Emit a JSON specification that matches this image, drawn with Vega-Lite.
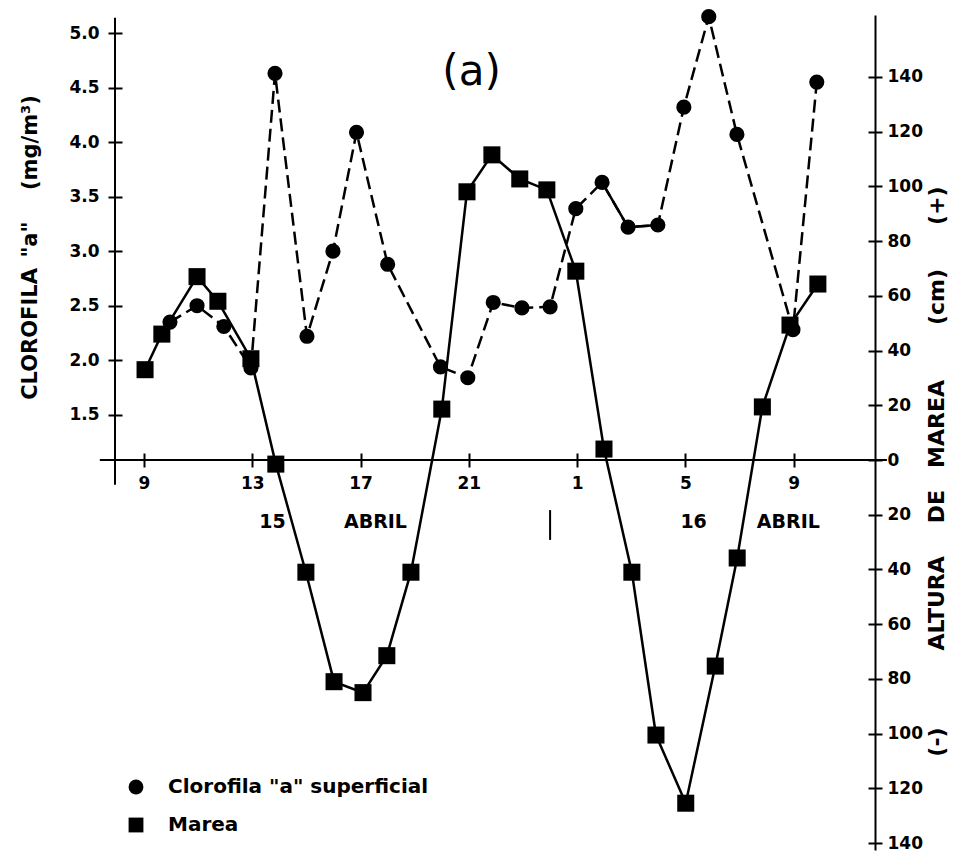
{
  "$schema": "https://vega.github.io/schema/vega-lite/v6.json",
  "width": 760,
  "height": 835,
  "autosize": "none",
  "padding": {"left": 115, "top": 15, "right": 98, "bottom": 3},
  "background": "white",
  "datasets": {
    "clorofila": [
      {"hora": 9.96, "valor": 2.35, "serie": "Clorofila \"a\" superficial"},
      {"hora": 10.96, "valor": 2.5, "serie": "Clorofila \"a\" superficial"},
      {"hora": 11.95, "valor": 2.31, "serie": "Clorofila \"a\" superficial"},
      {"hora": 12.95, "valor": 1.93, "serie": "Clorofila \"a\" superficial"},
      {"hora": 13.84, "valor": 4.63, "serie": "Clorofila \"a\" superficial"},
      {"hora": 15.02, "valor": 2.22, "serie": "Clorofila \"a\" superficial"},
      {"hora": 15.98, "valor": 3.0, "serie": "Clorofila \"a\" superficial"},
      {"hora": 16.85, "valor": 4.09, "serie": "Clorofila \"a\" superficial"},
      {"hora": 18.0, "valor": 2.88, "serie": "Clorofila \"a\" superficial"},
      {"hora": 19.95, "valor": 1.94, "serie": "Clorofila \"a\" superficial"},
      {"hora": 20.96, "valor": 1.84, "serie": "Clorofila \"a\" superficial"},
      {"hora": 21.9, "valor": 2.53, "serie": "Clorofila \"a\" superficial"},
      {"hora": 22.96, "valor": 2.48, "serie": "Clorofila \"a\" superficial"},
      {"hora": 24.0, "valor": 2.49, "serie": "Clorofila \"a\" superficial"},
      {"hora": 24.95, "valor": 3.39, "serie": "Clorofila \"a\" superficial"},
      {"hora": 25.92, "valor": 3.63, "serie": "Clorofila \"a\" superficial"},
      {"hora": 26.88, "valor": 3.22, "serie": "Clorofila \"a\" superficial"},
      {"hora": 27.98, "valor": 3.24, "serie": "Clorofila \"a\" superficial"},
      {"hora": 28.94, "valor": 4.32, "serie": "Clorofila \"a\" superficial"},
      {"hora": 29.86, "valor": 5.15, "serie": "Clorofila \"a\" superficial"},
      {"hora": 30.9, "valor": 4.07, "serie": "Clorofila \"a\" superficial"},
      {"hora": 32.97, "valor": 2.28, "serie": "Clorofila \"a\" superficial"},
      {"hora": 33.85, "valor": 4.55, "serie": "Clorofila \"a\" superficial"}
    ],
    "marea": [
      {"hora": 9.04, "altura": 33, "serie": "Marea"},
      {"hora": 9.66, "altura": 46, "serie": "Marea"},
      {"hora": 10.96, "altura": 67, "serie": "Marea"},
      {"hora": 11.73, "altura": 58, "serie": "Marea"},
      {"hora": 12.95, "altura": 37, "serie": "Marea"},
      {"hora": 13.87, "altura": -1.5, "serie": "Marea"},
      {"hora": 14.98, "altura": -41, "serie": "Marea"},
      {"hora": 16.02, "altura": -81, "serie": "Marea"},
      {"hora": 17.09, "altura": -85, "serie": "Marea"},
      {"hora": 17.97, "altura": -71.5, "serie": "Marea"},
      {"hora": 18.86, "altura": -41, "serie": "Marea"},
      {"hora": 20.0, "altura": 18.6, "serie": "Marea"},
      {"hora": 20.93, "altura": 98, "serie": "Marea"},
      {"hora": 21.85, "altura": 111.5, "serie": "Marea"},
      {"hora": 22.88, "altura": 102.7, "serie": "Marea"},
      {"hora": 23.88, "altura": 98.7, "serie": "Marea"},
      {"hora": 24.95, "altura": 69, "serie": "Marea"},
      {"hora": 25.99, "altura": 4, "serie": "Marea"},
      {"hora": 27.02, "altura": -41, "serie": "Marea"},
      {"hora": 27.91, "altura": -100.5, "serie": "Marea"},
      {"hora": 29.01, "altura": -125.4, "serie": "Marea"},
      {"hora": 30.1, "altura": -75.3, "serie": "Marea"},
      {"hora": 30.91, "altura": -35.8, "serie": "Marea"},
      {"hora": 31.84, "altura": 19.4, "serie": "Marea"},
      {"hora": 32.86, "altura": 49.3, "serie": "Marea"},
      {"hora": 33.89, "altura": 64.3, "serie": "Marea"}
    ]
  },
  "config": {
    "view": {"stroke": null},
    "font": "DejaVu Sans",
    "axis": {
      "grid": false,
      "domainColor": "black",
      "tickColor": "black",
      "labelColor": "black",
      "titleColor": "black",
      "labelFont": "DejaVu Sans",
      "titleFont": "DejaVu Sans",
      "labelFontWeight": "bold",
      "titleFontWeight": "bold"
    }
  },
  "layer": [
    {
      "data": {"values": [{}]},
      "mark": {"type": "rule", "color": "black", "strokeWidth": 2},
      "encoding": {
        "x": {"datum": 7.93, "type": "quantitative", "scale": {"domain": [7.93, 36], "nice": false, "zero": false}, "axis": null},
        "y": {
          "datum": 0.86, "type": "quantitative",
          "scale": {"domain": [-2.489, 5.165], "nice": false, "zero": false},
          "axis": {
            "orient": "right", "offset": -760, "domain": false, "labels": false, "title": null,
            "values": [1.5, 2, 2.5, 3, 3.5, 4, 4.5, 5], "tickSize": 7, "tickWidth": 2
          }
        },
        "y2": {"datum": 5.14}
      }
    },
    {
      "data": {"values": [{}]},
      "mark": {"type": "rule", "color": "black", "strokeWidth": 2},
      "encoding": {
        "x": {
          "datum": 7.37, "type": "quantitative",
          "scale": {"domain": [7.93, 36], "nice": false, "zero": false},
          "axis": {
            "orient": "top", "offset": -445, "domain": false, "labels": false, "title": null,
            "values": [9, 13, 17, 21, 25, 29, 33], "tickSize": 7, "tickWidth": 2
          }
        },
        "x2": {"datum": 36.44},
        "y": {"datum": 0, "type": "quantitative", "scale": {"domain": [-142.5, 162.6], "nice": false, "zero": false}, "axis": null}
      }
    },
    {
      "data": {"values": [{}]},
      "mark": {"type": "rule", "color": "black", "strokeWidth": 2},
      "encoding": {
        "x": {"datum": 24.0, "type": "quantitative", "scale": {"domain": [7.93, 36], "nice": false, "zero": false}, "axis": null},
        "y": {"datum": -18.3, "type": "quantitative", "scale": {"domain": [-142.5, 162.6], "nice": false, "zero": false}, "axis": null},
        "y2": {"datum": -29.2}
      }
    },
    {
      "data": {"name": "clorofila"},
      "mark": {"type": "line", "color": "black", "strokeWidth": 2.5, "strokeDash": [13, 6]},
      "encoding": {
        "x": {"field": "hora", "type": "quantitative", "scale": {"domain": [7.93, 36], "nice": false, "zero": false}, "axis": null},
        "y": {"field": "valor", "type": "quantitative", "scale": {"domain": [-2.489, 5.165], "nice": false, "zero": false}, "axis": null}
      }
    },
    {
      "data": {"name": "clorofila"},
      "transform": [{"filter": "datum.hora >= 25.9 && datum.hora <= 28"}],
      "mark": {"type": "line", "color": "black", "strokeWidth": 2.5},
      "encoding": {
        "x": {"field": "hora", "type": "quantitative", "scale": {"domain": [7.93, 36], "nice": false, "zero": false}, "axis": null},
        "y": {"field": "valor", "type": "quantitative", "scale": {"domain": [-2.489, 5.165], "nice": false, "zero": false}, "axis": null}
      }
    },
    {
      "data": {"name": "marea"},
      "mark": {"type": "line", "color": "black", "strokeWidth": 2.5},
      "encoding": {
        "x": {"field": "hora", "type": "quantitative", "scale": {"domain": [7.93, 36], "nice": false, "zero": false}, "axis": null},
        "y": {
          "field": "altura", "type": "quantitative",
          "scale": {"domain": [-142.5, 162.6], "nice": false, "zero": false},
          "axis": {
            "orient": "left", "offset": -760, "domain": false, "labels": false, "title": null,
            "values": [-140, -120, -100, -80, -60, -40, -20, 0, 20, 40, 60, 80, 100, 120, 140],
            "tickSize": 7, "tickWidth": 2
          }
        }
      }
    },
    {
      "data": {"name": "clorofila"},
      "mark": {"type": "point", "filled": true, "color": "black", "opacity": 1, "size": 230},
      "encoding": {
        "x": {
          "field": "hora", "type": "quantitative",
          "scale": {"domain": [7.93, 36], "nice": false, "zero": false},
          "axis": {
            "orient": "bottom", "offset": -390, "title": null, "domain": false,
            "values": [9, 13, 17, 21, 25, 29, 33],
            "labelExpr": "datum.value > 24 ? datum.value - 24 : datum.value",
            "tickSize": 7, "tickWidth": 2, "labelFontSize": 17, "labelPadding": 8
          }
        },
        "y": {
          "field": "valor", "type": "quantitative",
          "scale": {"domain": [-2.489, 5.165], "nice": false, "zero": false},
          "axis": {
            "orient": "left", "domain": false,
            "values": [1.5, 2, 2.5, 3, 3.5, 4, 4.5, 5],
            "format": ".1f",
            "tickSize": 7, "tickWidth": 2, "labelFontSize": 17, "labelPadding": 9,
            "title": "CLOROFILA\u2002\"a\"\u2003\u2002(mg/m³)",
            "titleFontSize": 21, "titleAngle": 270, "titleX": -85, "titleY": 232,
            "titleAlign": "center", "titleBaseline": "middle"
          }
        },
        "shape": {
          "field": "serie", "type": "nominal",
          "scale": {"domain": ["Clorofila \"a\" superficial", "Marea"], "range": ["circle", "square"]},
          "legend": {
            "orient": "none", "legendX": 11, "legendY": 762, "title": null, "direction": "vertical",
            "labelFont": "DejaVu Sans", "labelFontSize": 20, "labelFontWeight": "bold", "labelColor": "black",
            "symbolSize": 220, "symbolFillColor": "black", "symbolStrokeColor": "black", "symbolStrokeWidth": 0,
            "rowPadding": 18, "labelOffset": 22, "padding": 0, "labelLimit": 400
          }
        }
      }
    },
    {
      "data": {"name": "marea"},
      "mark": {"type": "point", "filled": true, "color": "black", "opacity": 1, "size": 290},
      "encoding": {
        "x": {"field": "hora", "type": "quantitative", "scale": {"domain": [7.93, 36], "nice": false, "zero": false}, "axis": null},
        "y": {
          "field": "altura", "type": "quantitative",
          "scale": {"domain": [-142.5, 162.6], "nice": false, "zero": false},
          "axis": {
            "orient": "right", "domain": true, "domainWidth": 2,
            "values": [-140, -120, -100, -80, -60, -40, -20, 0, 20, 40, 60, 80, 100, 120, 140],
            "labelExpr": "abs(datum.value)",
            "tickSize": 7, "tickWidth": 2, "labelFontSize": 17, "labelPadding": 5,
            "title": "(-)\u2003\u2003\u2003\u2002ALTURA\u2003\u2002DE\u2003MAREA\u2003\u2003\u2002(cm)\u2003\u2003(+)",
            "titleFontSize": 22, "titleAngle": 270, "titleX": 61, "titleY": 456,
            "titleAlign": "center", "titleBaseline": "middle"
          }
        },
        "shape": {"field": "serie", "type": "nominal"}
      }
    },
    {
      "data": {"values": [{}]},
      "mark": {"type": "text", "fontSize": 42, "font": "DejaVu Sans", "color": "black"},
      "encoding": {
        "x": {"datum": 21.1, "type": "quantitative", "scale": {"domain": [7.93, 36], "nice": false, "zero": false}, "axis": null},
        "y": {"datum": 4.64, "type": "quantitative", "scale": {"domain": [-2.489, 5.165], "nice": false, "zero": false}, "axis": null},
        "text": {"value": "(a)"}
      }
    },
    {
      "data": {"values": [{}]},
      "mark": {"type": "text", "fontSize": 19, "fontWeight": "bold", "color": "black"},
      "encoding": {
        "x": {"datum": 13.75, "type": "quantitative", "scale": {"domain": [7.93, 36], "nice": false, "zero": false}, "axis": null},
        "y": {"datum": -22.7, "type": "quantitative", "scale": {"domain": [-142.5, 162.6], "nice": false, "zero": false}, "axis": null},
        "text": {"value": "15"}
      }
    },
    {
      "data": {"values": [{}]},
      "mark": {"type": "text", "fontSize": 19, "fontWeight": "bold", "color": "black"},
      "encoding": {
        "x": {"datum": 17.55, "type": "quantitative", "scale": {"domain": [7.93, 36], "nice": false, "zero": false}, "axis": null},
        "y": {"datum": -22.7, "type": "quantitative", "scale": {"domain": [-142.5, 162.6], "nice": false, "zero": false}, "axis": null},
        "text": {"value": "ABRIL"}
      }
    },
    {
      "data": {"values": [{}]},
      "mark": {"type": "text", "fontSize": 19, "fontWeight": "bold", "color": "black"},
      "encoding": {
        "x": {"datum": 29.3, "type": "quantitative", "scale": {"domain": [7.93, 36], "nice": false, "zero": false}, "axis": null},
        "y": {"datum": -22.7, "type": "quantitative", "scale": {"domain": [-142.5, 162.6], "nice": false, "zero": false}, "axis": null},
        "text": {"value": "16"}
      }
    },
    {
      "data": {"values": [{}]},
      "mark": {"type": "text", "fontSize": 19, "fontWeight": "bold", "color": "black"},
      "encoding": {
        "x": {"datum": 32.8, "type": "quantitative", "scale": {"domain": [7.93, 36], "nice": false, "zero": false}, "axis": null},
        "y": {"datum": -22.7, "type": "quantitative", "scale": {"domain": [-142.5, 162.6], "nice": false, "zero": false}, "axis": null},
        "text": {"value": "ABRIL"}
      }
    }
  ],
  "resolve": {"scale": {"x": "independent", "y": "independent"}}
}
